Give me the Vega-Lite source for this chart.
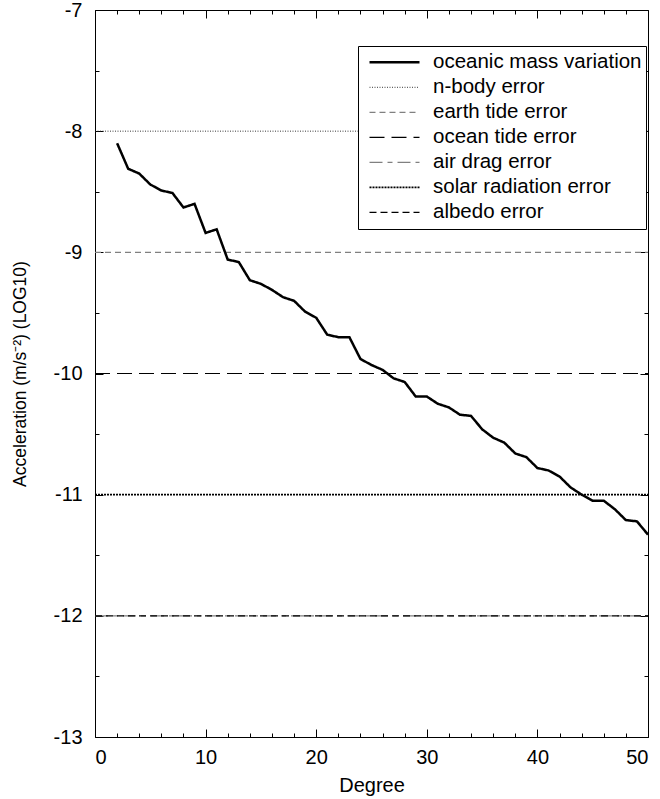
{
  "$schema": "https://vega.github.io/schema/vega-lite/v6.json",
  "width": 553,
  "height": 727,
  "autosize": "none",
  "padding": {"left": 95, "top": 10, "right": 12, "bottom": 62},
  "config": {
    "font": "Liberation Sans",
    "view": {"stroke": "black", "strokeWidth": 1},
    "axis": {
      "domain": false,
      "grid": false,
      "tickColor": "black",
      "tickWidth": 1,
      "labelFont": "Liberation Sans",
      "labelFontSize": 20,
      "labelColor": "black",
      "titleFont": "Liberation Sans",
      "titleFontWeight": "normal",
      "titleColor": "black"
    },
    "legend": {
      "orient": "none",
      "legendX": 263,
      "legendY": 36,
      "symbolType": "stroke",
      "symbolSize": 2500,
      "symbolOffset": 6,
      "clipHeight": 24.6,
      "rowPadding": 0,
      "labelFont": "Liberation Sans",
      "labelFontSize": 20.5,
      "labelColor": "black",
      "labelLimit": 300,
      "labelOffset": 12,
      "padding": 4,
      "strokeColor": "black",
      "fillColor": "white"
    }
  },
  "data": {
    "values": [
      {"series": "oceanic mass variation", "degree": 2, "value": -8.10},
      {"series": "oceanic mass variation", "degree": 3, "value": -8.31},
      {"series": "oceanic mass variation", "degree": 4, "value": -8.35},
      {"series": "oceanic mass variation", "degree": 5, "value": -8.44},
      {"series": "oceanic mass variation", "degree": 6, "value": -8.49},
      {"series": "oceanic mass variation", "degree": 7, "value": -8.51},
      {"series": "oceanic mass variation", "degree": 8, "value": -8.63},
      {"series": "oceanic mass variation", "degree": 9, "value": -8.60},
      {"series": "oceanic mass variation", "degree": 10, "value": -8.84},
      {"series": "oceanic mass variation", "degree": 11, "value": -8.81},
      {"series": "oceanic mass variation", "degree": 12, "value": -9.06},
      {"series": "oceanic mass variation", "degree": 13, "value": -9.08},
      {"series": "oceanic mass variation", "degree": 14, "value": -9.23},
      {"series": "oceanic mass variation", "degree": 15, "value": -9.26},
      {"series": "oceanic mass variation", "degree": 16, "value": -9.31},
      {"series": "oceanic mass variation", "degree": 17, "value": -9.37},
      {"series": "oceanic mass variation", "degree": 18, "value": -9.40},
      {"series": "oceanic mass variation", "degree": 19, "value": -9.49},
      {"series": "oceanic mass variation", "degree": 20, "value": -9.54},
      {"series": "oceanic mass variation", "degree": 21, "value": -9.68},
      {"series": "oceanic mass variation", "degree": 22, "value": -9.70},
      {"series": "oceanic mass variation", "degree": 23, "value": -9.70},
      {"series": "oceanic mass variation", "degree": 24, "value": -9.88},
      {"series": "oceanic mass variation", "degree": 25, "value": -9.93},
      {"series": "oceanic mass variation", "degree": 26, "value": -9.97},
      {"series": "oceanic mass variation", "degree": 27, "value": -10.04},
      {"series": "oceanic mass variation", "degree": 28, "value": -10.07},
      {"series": "oceanic mass variation", "degree": 29, "value": -10.19},
      {"series": "oceanic mass variation", "degree": 30, "value": -10.19},
      {"series": "oceanic mass variation", "degree": 31, "value": -10.25},
      {"series": "oceanic mass variation", "degree": 32, "value": -10.28},
      {"series": "oceanic mass variation", "degree": 33, "value": -10.34},
      {"series": "oceanic mass variation", "degree": 34, "value": -10.35},
      {"series": "oceanic mass variation", "degree": 35, "value": -10.46},
      {"series": "oceanic mass variation", "degree": 36, "value": -10.53},
      {"series": "oceanic mass variation", "degree": 37, "value": -10.57},
      {"series": "oceanic mass variation", "degree": 38, "value": -10.66},
      {"series": "oceanic mass variation", "degree": 39, "value": -10.69},
      {"series": "oceanic mass variation", "degree": 40, "value": -10.78},
      {"series": "oceanic mass variation", "degree": 41, "value": -10.80},
      {"series": "oceanic mass variation", "degree": 42, "value": -10.85},
      {"series": "oceanic mass variation", "degree": 43, "value": -10.94},
      {"series": "oceanic mass variation", "degree": 44, "value": -11.00},
      {"series": "oceanic mass variation", "degree": 45, "value": -11.05},
      {"series": "oceanic mass variation", "degree": 46, "value": -11.05},
      {"series": "oceanic mass variation", "degree": 47, "value": -11.12},
      {"series": "oceanic mass variation", "degree": 48, "value": -11.21},
      {"series": "oceanic mass variation", "degree": 49, "value": -11.22},
      {"series": "oceanic mass variation", "degree": 50, "value": -11.33},
      {"series": "n-body error", "degree": 0, "value": -8},
      {"series": "n-body error", "degree": 50, "value": -8},
      {"series": "earth tide error", "degree": 0, "value": -9},
      {"series": "earth tide error", "degree": 50, "value": -9},
      {"series": "ocean tide error", "degree": 0, "value": -10},
      {"series": "ocean tide error", "degree": 50, "value": -10},
      {"series": "air drag error", "degree": 0, "value": -12},
      {"series": "air drag error", "degree": 50, "value": -12},
      {"series": "solar radiation error", "degree": 0, "value": -11},
      {"series": "solar radiation error", "degree": 50, "value": -11},
      {"series": "albedo error", "degree": 0, "value": -12},
      {"series": "albedo error", "degree": 50, "value": -12}
    ]
  },
  "encoding": {
    "color": {
      "field": "series", "type": "nominal",
      "scale": {
        "domain": ["oceanic mass variation", "n-body error", "earth tide error", "ocean tide error", "air drag error", "solar radiation error", "albedo error"],
        "range": ["#000000", "#222222", "#808080", "#000000", "#808080", "#000000", "#000000"]
      },
      "legend": {"title": null}
    },
    "strokeDash": {
      "field": "series", "type": "nominal",
      "scale": {
        "domain": ["oceanic mass variation", "n-body error", "earth tide error", "ocean tide error", "air drag error", "solar radiation error", "albedo error"],
        "range": [[1, 0], [1, 1.5], [6, 4], [15, 7], [13, 5, 5, 5], [2, 1], [7, 4]]
      },
      "legend": {"title": null}
    },
    "strokeWidth": {
      "field": "series", "type": "nominal",
      "scale": {
        "type": "ordinal",
        "domain": ["oceanic mass variation", "n-body error", "earth tide error", "ocean tide error", "air drag error", "solar radiation error", "albedo error"],
        "range": [2.5, 0.9, 1.2, 1.2, 1.2, 1.8, 1.2]
      },
      "legend": {"title": null}
    },
    "order": {"field": "degree"}
  },
  "layer": [
    {
      "transform": [{"filter": "datum.series !== 'oceanic mass variation'"}],
      "mark": {"type": "line", "strokeCap": "butt"},
      "encoding": {
        "x": {
          "field": "degree", "type": "quantitative",
          "scale": {"domain": [0, 50], "nice": false},
          "axis": {
            "orient": "top", "title": null, "labels": false,
            "values": [0, 2, 4, 6, 8, 10, 12, 14, 16, 18, 20, 22, 24, 26, 28, 30, 32, 34, 36, 38, 40, 42, 44, 46, 48, 50],
            "tickSize": {"condition": {"test": "datum.value % 10 === 0", "value": -8}, "value": -4}
          }
        },
        "y": {
          "field": "value", "type": "quantitative",
          "scale": {"domain": [-13, -7], "nice": false},
          "axis": {
            "orient": "right", "title": null, "labels": false,
            "values": [-13, -12.5, -12, -11.5, -11, -10.5, -10, -9.5, -9, -8.5, -8, -7.5, -7],
            "tickSize": {"condition": {"test": "datum.value % 1 === 0", "value": -8}, "value": -4}
          }
        }
      }
    },
    {
      "transform": [{"filter": "datum.series === 'oceanic mass variation'"}],
      "mark": {"type": "line", "strokeJoin": "miter"},
      "encoding": {
        "x": {
          "field": "degree", "type": "quantitative",
          "scale": {"domain": [0, 50], "nice": false},
          "axis": {
            "orient": "bottom", "title": "Degree", "titlePadding": 8, "titleFontSize": 20,
            "values": [0, 2, 4, 6, 8, 10, 12, 14, 16, 18, 20, 22, 24, 26, 28, 30, 32, 34, 36, 38, 40, 42, 44, 46, 48, 50],
            "labelExpr": "datum.value % 10 === 0 ? '' + datum.value : ''",
            "labelPadding": 18,
            "tickSize": {"condition": {"test": "datum.value % 10 === 0", "value": -8}, "value": -4}
          }
        },
        "y": {
          "field": "value", "type": "quantitative",
          "scale": {"domain": [-13, -7], "nice": false},
          "axis": {
            "orient": "left", "title": "Acceleration (m/s⁻²) (LOG10)", "titlePadding": 24, "titleFontSize": 17.5,
            "values": [-13, -12.5, -12, -11.5, -11, -10.5, -10, -9.5, -9, -8.5, -8, -7.5, -7],
            "labelExpr": "datum.value % 1 === 0 ? '' + datum.value : ''",
            "labelPadding": 21,
            "tickSize": {"condition": {"test": "datum.value % 1 === 0", "value": -8}, "value": -4}
          }
        }
      }
    }
  ],
  "resolve": {"axis": {"x": "independent", "y": "independent"}}
}
